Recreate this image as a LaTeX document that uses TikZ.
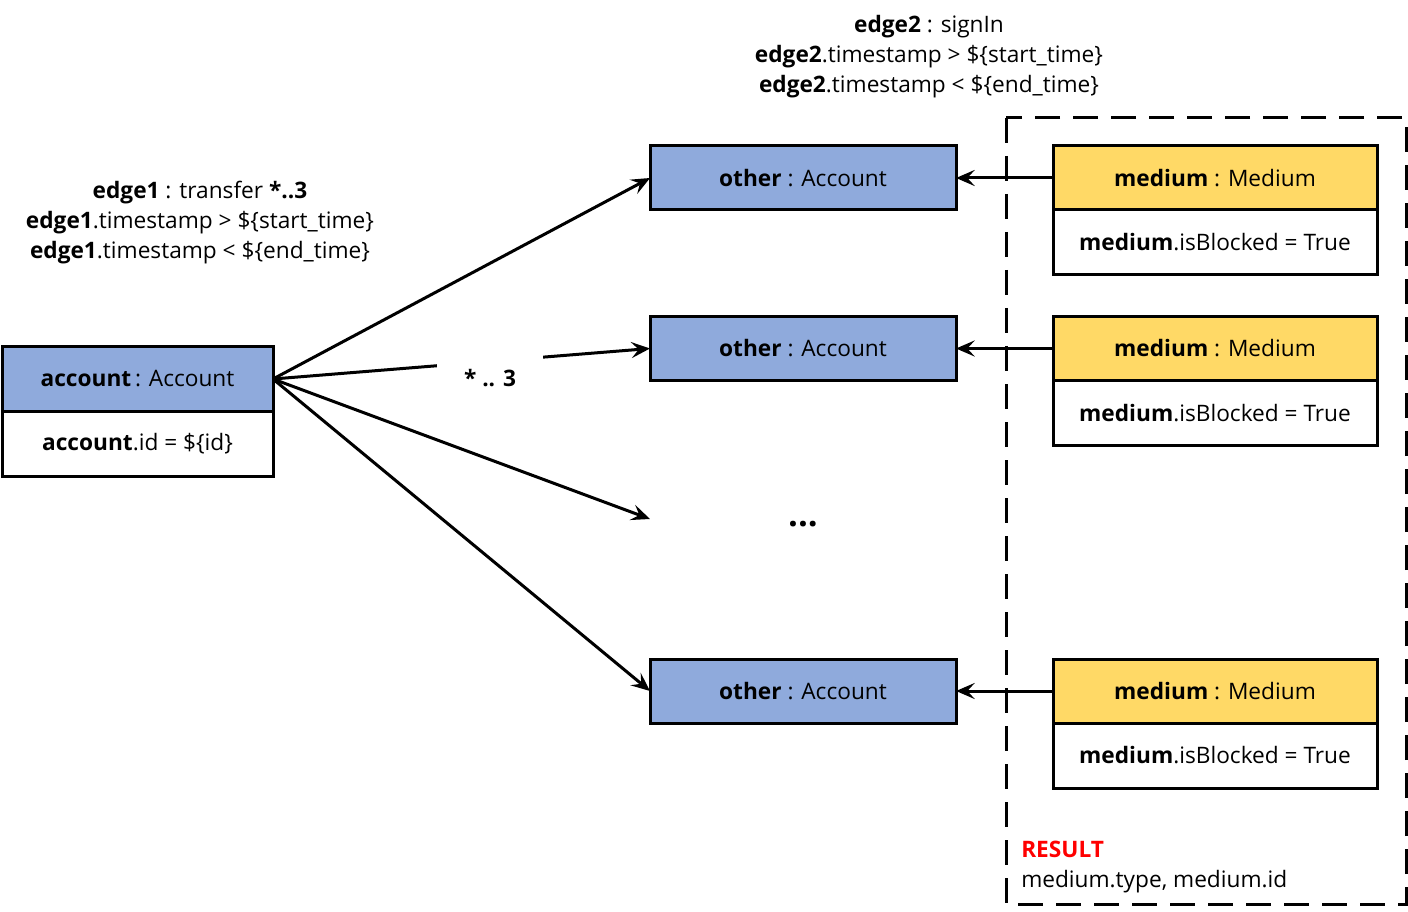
\documentclass[tikz,border=0pt]{standalone}
\usepackage{fontspec}
\setmainfont{Open Sans}
\usetikzlibrary{arrows.meta}
\definecolor{blueh}{HTML}{8FAADC}
\definecolor{yellowh}{HTML}{FFD966}
\definecolor{resred}{HTML}{FF0000}
\begin{document}
\begin{tikzpicture}[x=0.75pt,y=-0.75pt,
  every node/.style={font=\fontsize{17pt}{22.5pt}\selectfont, inner sep=0pt},
  boxbase/.style={draw=black, line width=2.25pt, rectangle, align=center, outer sep=0pt},
  acchead/.style={boxbase, fill=blueh, minimum width=203.25pt, minimum height=48pt},
  accbody/.style={boxbase, fill=white, minimum width=203.25pt, minimum height=48.75pt},
  othbox/.style={boxbase, fill=blueh, minimum width=229.5pt, minimum height=48pt},
  medhead/.style={boxbase, fill=yellowh, minimum width=243pt, minimum height=48pt},
  medbody/.style={boxbase, fill=white, minimum width=243pt, minimum height=48.75pt},
  conn/.style={line width=2.25pt, -{Stealth[length=14pt,width=12pt,inset=5.5pt]}},
  lbl/.style={align=center}
]
\useasboundingbox (0,0) rectangle (1408,912);
% dashed result frame
\draw[line width=2.25pt, dash pattern=on 19pt off 9.5pt] (1006,118) rectangle (1406,904);

% account
\node[acchead] (acc) at (137.5,379) {\textbf{account}\,: Account};
\node[accbody, anchor=north] (accb) at (acc.south) {\textbf{account}.id = \$\{id\}};

% other accounts
\node[othbox] (o1) at (803,178) {\textbf{other} : Account};
\node[othbox] (o2) at (803,348.5) {\textbf{other} : Account};
\node[othbox] (o3) at (803,691) {\textbf{other} : Account};
\node[anchor=base, font=\fontsize{26pt}{26pt}\selectfont\bfseries] (dots) at (803,526) {...};
\coordinate (o4) at (650,519);

% media
\node[medhead] (m1) at (1215,178) {\textbf{medium} : Medium};
\node[medbody, anchor=north] (m1b) at (m1.south) {\textbf{medium}.isBlocked = True};
\node[medhead] (m2) at (1215,348.5) {\textbf{medium} : Medium};
\node[medbody, anchor=north] (m2b) at (m2.south) {\textbf{medium}.isBlocked = True};
\node[medhead] (m3) at (1215,691) {\textbf{medium} : Medium};
\node[medbody, anchor=north] (m3b) at (m3.south) {\textbf{medium}.isBlocked = True};

% connectors
\draw[conn] (acc.east) -- (o1.west);
\draw[conn] (acc.east) -- (o2.west);
\draw[conn] (acc.east) -- (o4);
\draw[conn] (acc.east) -- (o3.west);
\node[fill=white, minimum width=80pt, minimum height=44pt] (star) at (490,378) {\textbf{* .. 3}};

\draw[conn] (m1.west) -- (o1.east);
\draw[conn] (m2.west) -- (o2.east);
\draw[conn] (m3.west) -- (o3.east);

% labels
\node[lbl] (e1) at (200,223) {\textbf{edge1} : transfer \textbf{*..3}\\\textbf{edge1}.timestamp > \$\{start\_time\}\\\textbf{edge1}.timestamp < \$\{end\_time\}};
\node[lbl] (e2) at (929,57) {\textbf{edge2} : signIn\\\textbf{edge2}.timestamp > \$\{start\_time\}\\\textbf{edge2}.timestamp < \$\{end\_time\}};
\node[align=left, anchor=north west] (res) at (1021,841) {\textcolor{resred}{\textbf{RESULT}}\\medium.type, medium.id};
\end{tikzpicture}
\end{document}
